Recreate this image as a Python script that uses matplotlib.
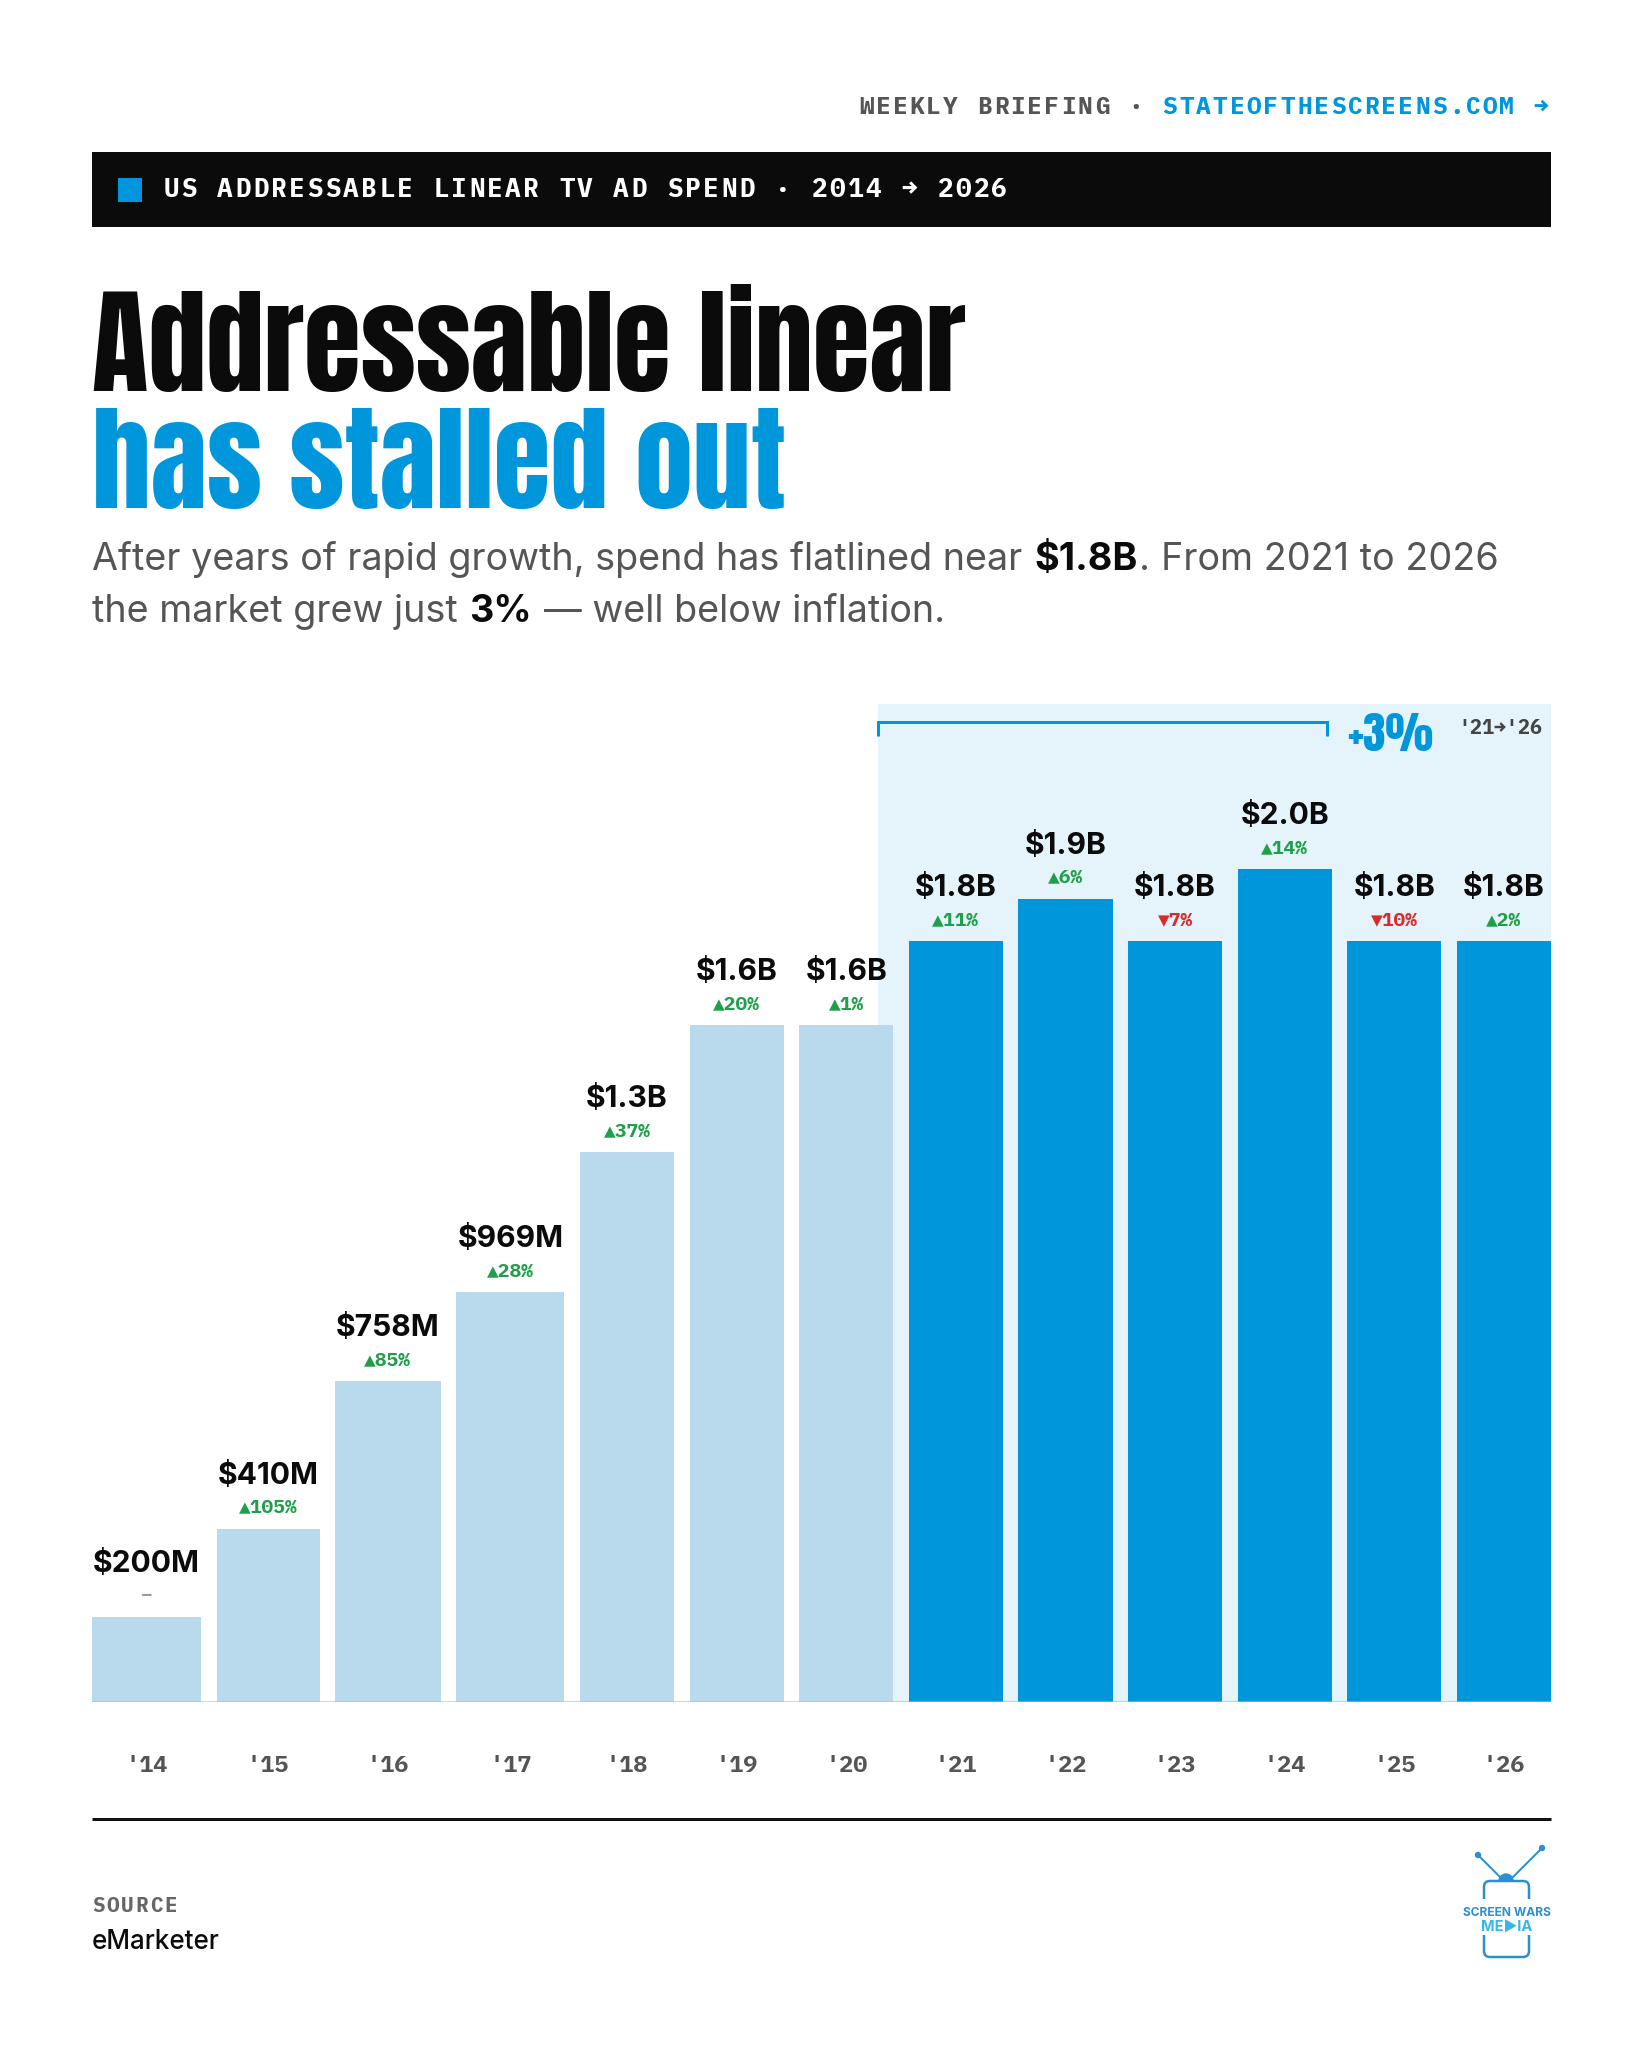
import matplotlib
matplotlib.use('Agg')
import matplotlib.pyplot as plt
from matplotlib.patches import Rectangle, FancyBboxPatch, Wedge, Circle

# ---- data ----
years = ['2014', '2015', '2016', '2017', '2018', '2019', '2020',
         '2021', '2022', '2023', '2024', '2025', '2026']
tick_labels = ["'14", "'15", "'16", "'17", "'18", "'19", "'20",
               "'21", "'22", "'23", "'24", "'25", "'26"]
spend_b = [0.200, 0.410, 0.758, 0.969, 1.30, 1.60, 1.60,
           1.80, 1.90, 1.80, 1.97, 1.80, 1.80]
value_labels = ['$200M', '$410M', '$758M', '$969M', '$1.3B', '$1.6B', '$1.6B',
                '$1.8B', '$1.9B', '$1.8B', '$2.0B', '$1.8B', '$1.8B']
yoy_pct = [None, 105, 85, 28, 37, 20, 1, 11, 6, -7, 14, -10, 2]
highlight_start = '2021'
highlight_end = '2024'   # bracket stops here
period_change = '+3%'
period_label = "'21→'26"

# ---- styling ----
W, H, DPI = 1638, 2048, 100
INK = '#0b0b0b'
GREY = '#555555'
BLUE = '#0096dc'
LIGHT = '#b9daec'
BAND = '#e5f3fb'
GREEN = '#1f9f4a'
RED = '#d92b2b'
ANTON = ['Anton', 'DejaVu Sans']
INTER = ['Inter', 'DejaVu Sans']
MONO = ['IBM Plex Mono', 'DejaVu Sans Mono', 'DejaVu Sans']


def pt(px):
    return px * 72 / DPI


fig = plt.figure(figsize=(W / DPI, H / DPI), dpi=DPI)
fig.patch.set_facecolor('white')
bg = fig.add_axes([0, 0, 1, 1])
bg.set_xlim(0, W); bg.set_ylim(H, 0); bg.axis('off')
R = fig.canvas.get_renderer()


def wid(t):
    return t.get_window_extent(R).width


def text_w(s, size_px, family, weight='normal'):
    t = bg.text(0, 0, s, fontsize=pt(size_px), family=family, weight=weight)
    w = wid(t); t.remove()
    return w


def tracked(x, y, s, px, pitch, color, weight='bold'):
    # monospace text with letter spacing, one cell per character
    for i, ch in enumerate(s):
        if ch == ' ':
            continue
        bg.text(x + (i + 0.5) * pitch, y, ch, fontsize=pt(px), family=MONO, weight=weight,
                color=color, ha='center', va='baseline')


def runs(x, y, parts, px):
    sp = text_w('x x', px, INTER) - text_w('xx', px, INTER)
    for s, weight, color, space in parts:
        if space:
            x += sp
        t = bg.text(x, y, s, fontsize=pt(px), family=INTER, weight=weight, color=color, va='baseline')
        x += wid(t) + 0.03 * px


# ---- top line (right aligned) ----
kicker = 'WEEKLY BRIEFING · '
link = 'STATEOFTHESCREENS.COM →'
pitch_top = 16.86
x0 = 1549 - pitch_top * len(kicker + link)
tracked(x0, 114, kicker, 24.5, pitch_top, GREY)
tracked(x0 + pitch_top * len(kicker), 114, link, 24.5, pitch_top, BLUE)

# ---- black strip ----
bg.add_patch(Rectangle((92, 152), 1459, 75, color='#0b0b0b', lw=0))
bg.add_patch(Rectangle((118, 178), 24, 24, color=BLUE, lw=0))
tracked(162, 197, 'US ADDRESSABLE LINEAR TV AD SPEND · 2014 → 2026', 26, 18.0, 'white')

# ---- headline ----
size = 100 * 874 / text_w('Addressable linear', 100, ANTON)
bg.text(92, 391, 'Addressable linear', fontsize=pt(size), family=ANTON, color=INK, va='baseline')
bg.text(92, 508, 'has stalled out', fontsize=pt(size), family=ANTON, color=BLUE, va='baseline')

# ---- subtitle ----
line1 = 'After years of rapid growth, spend has flatlined near $1.8B. From 2021 to 2026'
sub = 100 * 1400 / text_w(line1, 100, INTER)
runs(92, 570, [('After years of rapid growth, spend has flatlined near', 'normal', GREY, False),
               ('$1.8B', 'bold', INK, True),
               ('.', 'normal', GREY, False),
               ('From 2021 to 2026', 'normal', GREY, True)], sub)
runs(92, 622, [('the market grew just', 'normal', GREY, False),
               ('3%', 'bold', INK, True),
               ('— well below inflation.', 'normal', GREY, True)], sub)

# ---- chart ----
L, RR, B, T = 92, 1551, 1702, 704
CW = RR - L
ax = fig.add_axes([L / W, 1 - B / H, CW / W, (B - T) / H])
ax.set_xlim(0, CW)
ax.set_ylim(0, 2.36)
ax.patch.set_alpha(0)
for s in ax.spines.values():
    s.set_visible(False)
ax.set_yticks([])

# flex-style column widths: each column at least as wide as its value label
LABEL_PX = 30
gap = 15.5
min_w = [text_w(v, LABEL_PX, INTER, 'bold') + 2 for v in value_labels]
n = len(years)
avail = CW - gap * (n - 1)
widths = [None] * n
free = list(range(n))
while True:
    used = sum(w for w in widths if w is not None)
    share = (avail - used) / len(free)
    big = [i for i in free if min_w[i] > share]
    if not big:
        break
    for i in big:
        widths[i] = min_w[i]
    free = [i for i in free if i not in big]
for i in free:
    widths[i] = share
lefts = []
x = 0
for w in widths:
    lefts.append(x)
    x += w + gap
centers = [l + w / 2 for l, w in zip(lefts, widths)]

hi = years.index(highlight_start)
colors = [LIGHT if i < hi else BLUE for i in range(n)]
ax.axvspan(CW * hi / n, CW, color=BAND, lw=0, zorder=0)
ax.bar(lefts, spend_b, width=widths, align='edge', color=colors, lw=0, zorder=2)
ax.axhline(0, color='#b8b8b8', lw=pt(2), alpha=0.6, zorder=3)

for i in range(n):
    ax.annotate(value_labels[i], (centers[i], spend_b[i]), xytext=(0, pt(45)),
                textcoords='offset points', ha='center', va='baseline',
                fontsize=pt(LABEL_PX), family=INTER, weight='bold', color=INK,
                annotation_clip=False)
    p = yoy_pct[i]
    if p is None:
        txt, col = '–', '#9a9a9a'
    elif p >= 0:
        txt, col = f'▲{p}%', GREEN
    else:
        txt, col = f'▼{abs(p)}%', RED
    ax.annotate(txt, (centers[i], spend_b[i]), xytext=(0, pt(16)),
                textcoords='offset points', ha='center', va='baseline',
                fontsize=pt(19.5), family=MONO, weight='bold', color=col,
                annotation_clip=False)

ax.set_xticks(centers, tick_labels, fontsize=pt(23.5), family=MONO, weight='bold', color=GREY)
ax.tick_params(axis='x', length=0, pad=pt(70))
for lbl in ax.get_xticklabels():
    lbl.set_va('baseline')

# bracket over the flat years
he = years.index(highlight_end) + 1
bx0 = L + CW * hi / n
bx1 = L + CW * he / n
ax.plot([bx0, bx0, bx1, bx1], [736, 721.5, 721.5, 736], color=BLUE, lw=pt(3),
        solid_joinstyle='miter', solid_capstyle='butt', transform=bg.transData, clip_on=False, zorder=5)
ps = 100 * 86 / text_w(period_change, 100, ANTON)
ax.text(1347, 751, period_change, fontsize=pt(ps), family=ANTON, color=BLUE, va='baseline',
        transform=bg.transData, clip_on=False)
ax.text(1458, 734, period_label, fontsize=pt(20), family=MONO, weight='bold', color='#444444',
        va='baseline', transform=bg.transData, clip_on=False)

# ---- footer ----
bg.plot([92, 1551], [1819, 1819], color='#111111', lw=pt(3), solid_capstyle='butt')
tracked(91, 1912, 'SOURCE', 21, 14.5, '#666666')
bg.text(92, 1949, 'eMarketer', fontsize=pt(26), family=INTER, weight=500, color=INK, va='baseline')

# logo
LOGO = '#2b8fd4'
bg.plot([1478, 1501], [1855, 1878], color=LOGO, lw=pt(2))
bg.plot([1542, 1512], [1848, 1878], color=LOGO, lw=pt(2))
bg.add_patch(Circle((1478, 1855), 2.5, color=LOGO))
bg.add_patch(Circle((1542, 1848), 2.5, color=LOGO))
bg.add_patch(Wedge((1506, 1881), 7, 180, 360, color=LOGO))
bg.add_patch(FancyBboxPatch((1484, 1881), 45, 76, boxstyle='round,pad=0,rounding_size=6',
                            fc='none', ec=LOGO, lw=pt(2.5)))
bg.add_patch(Rectangle((1478, 1899), 57, 36, color='white', lw=0))
bg.text(1506.5, 1916, 'SCREEN WARS', fontsize=pt(12), family=INTER,
        weight='bold', color=LOGO, ha='center', va='baseline')
bg.text(1506.5, 1932, 'ME▶IA', fontsize=pt(14.5), family=INTER,
        weight='bold', color='#36b5e8', ha='center', va='baseline')

fig.savefig('out.png', dpi=DPI, facecolor='white')
